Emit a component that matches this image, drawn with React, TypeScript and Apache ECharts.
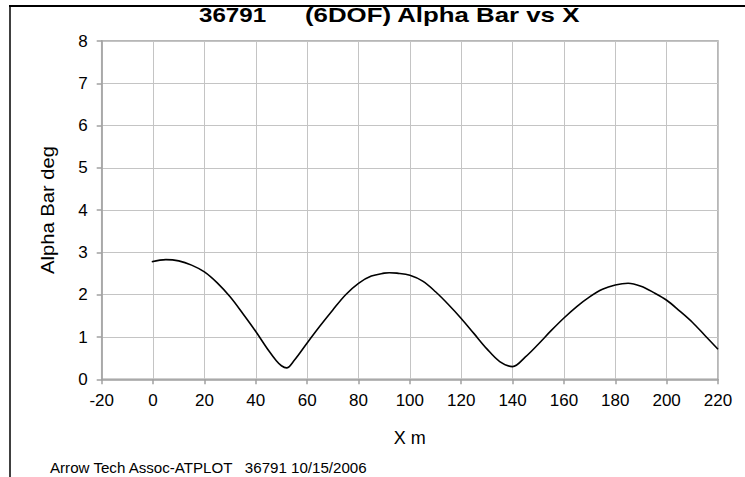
import React, { useEffect, useRef } from "react";
import * as echarts from "echarts";

const xTicks = { min: -20, max: 220, interval: 20 };
const yTicks = { min: 0, max: 8, interval: 1 };

const xValues = [
  -0.5, 5, 10, 15, 20, 25, 30, 35, 40, 45, 48, 50, 52, 55, 60, 65, 70, 75, 80, 85, 90, 92, 95, 100, 105,
  110, 115, 120, 125, 130, 135, 140, 145, 150, 155, 160, 165, 170, 175, 180, 185, 190, 195, 200, 205,
  210, 215, 220,
];
const alphaBar = [
  2.78, 2.83, 2.8, 2.7, 2.54, 2.28, 1.95, 1.55, 1.13, 0.68, 0.44, 0.32, 0.27, 0.45, 0.86, 1.26, 1.64,
  2.0, 2.27, 2.44, 2.51, 2.52, 2.51, 2.46, 2.32, 2.07, 1.77, 1.44, 1.08, 0.72, 0.42, 0.3, 0.53, 0.83,
  1.15, 1.45, 1.72, 1.95, 2.13, 2.23, 2.27, 2.2, 2.05, 1.87, 1.62, 1.35, 1.03, 0.71,
];

const titleId = "36791";
const titleText = "(6DOF) Alpha Bar vs X";
const xName = "X m";
const yName = "Alpha Bar deg";
const footerText = "Arrow Tech Assoc-ATPLOT   36791 10/15/2006";

export default function App() {
  const ref = useRef<HTMLDivElement>(null);
  useEffect(() => {
    if (!ref.current) return;
    const chart = echarts.init(ref.current, null, { renderer: "svg" });
    const font = "Arial, 'Liberation Sans', sans-serif";
    chart.setOption({
      animation: false,
      backgroundColor: "#ffffff",
      grid: {
        left: 101.7,
        right: 27,
        top: 41,
        bottom: 97.7,
        show: true,
        borderColor: "#a0a0a0",
        borderWidth: 1.5,
      },
      xAxis: {
        type: "value",
        min: xTicks.min,
        max: xTicks.max,
        interval: xTicks.interval,
        name: xName,
        nameLocation: "middle",
        nameGap: 50,
        nameTextStyle: { fontSize: 18, color: "#000", fontFamily: font },
        axisLine: { show: true, onZero: false, lineStyle: { color: "#a0a0a0", width: 1.5 } },
        axisTick: { show: true, length: 5, lineStyle: { color: "#a0a0a0", width: 1.5 } },
        axisLabel: { fontSize: 17, color: "#000", fontFamily: font, margin: 13 },
        splitLine: { show: true, lineStyle: { color: "#c4c4c4", width: 1 } },
      },
      yAxis: {
        type: "value",
        min: yTicks.min,
        max: yTicks.max,
        interval: yTicks.interval,
        axisLine: { show: true, onZero: false, lineStyle: { color: "#a0a0a0", width: 1.5 } },
        axisTick: { show: true, length: 5, lineStyle: { color: "#a0a0a0", width: 1.5 } },
        axisLabel: { fontSize: 17, color: "#000", fontFamily: font, margin: 14 },
        splitLine: { show: true, lineStyle: { color: "#c4c4c4", width: 1 } },
      },
      series: [
        {
          type: "line",
          data: xValues.map((x, i) => [x, alphaBar[i]]),
          smooth: 0.35,
          showSymbol: false,
          lineStyle: { color: "#000", width: 1.6 },
          itemStyle: { color: "#000" },
        },
      ],
      graphic: [
        {
          type: "line",
          shape: { x1: 9, y1: 6, x2: 745, y2: 6 },
          style: { stroke: "#000", lineWidth: 2.2 },
        },
        {
          type: "line",
          shape: { x1: 10, y1: 5, x2: 10, y2: 477 },
          style: { stroke: "#000", lineWidth: 1.5 },
        },
        {
          type: "text",
          x: 199,
          y: 15,
          scaleX: 1.15,
          style: {
            text: titleId,
            fontSize: 21,
            fontWeight: "bold",
            fontFamily: font,
            fill: "#000",
            textAlign: "left",
            textVerticalAlign: "middle",
          },
        },
        {
          type: "text",
          x: 305,
          y: 15,
          scaleX: 1.23,
          style: {
            text: titleText,
            fontSize: 21,
            fontWeight: "bold",
            fontFamily: font,
            fill: "#000",
            textAlign: "left",
            textVerticalAlign: "middle",
          },
        },
        {
          type: "text",
          x: 48,
          y: 210,
          rotation: Math.PI / 2,
          scaleX: 1.12,
          style: {
            text: yName,
            fontSize: 18,
            fontFamily: font,
            fill: "#000",
            textAlign: "center",
            textVerticalAlign: "middle",
          },
        },
        {
          type: "text",
          x: 50,
          y: 468,
          scaleX: 1.08,
          style: {
            text: footerText,
            fontSize: 14,
            fontFamily: font,
            fill: "#000",
            textAlign: "left",
            textVerticalAlign: "middle",
          },
        },
      ],
    });
    return () => chart.dispose();
  }, []);
  return <div ref={ref} style={{ width: 745, height: 477, position: "absolute", left: 0, top: 0 }} />;
}
